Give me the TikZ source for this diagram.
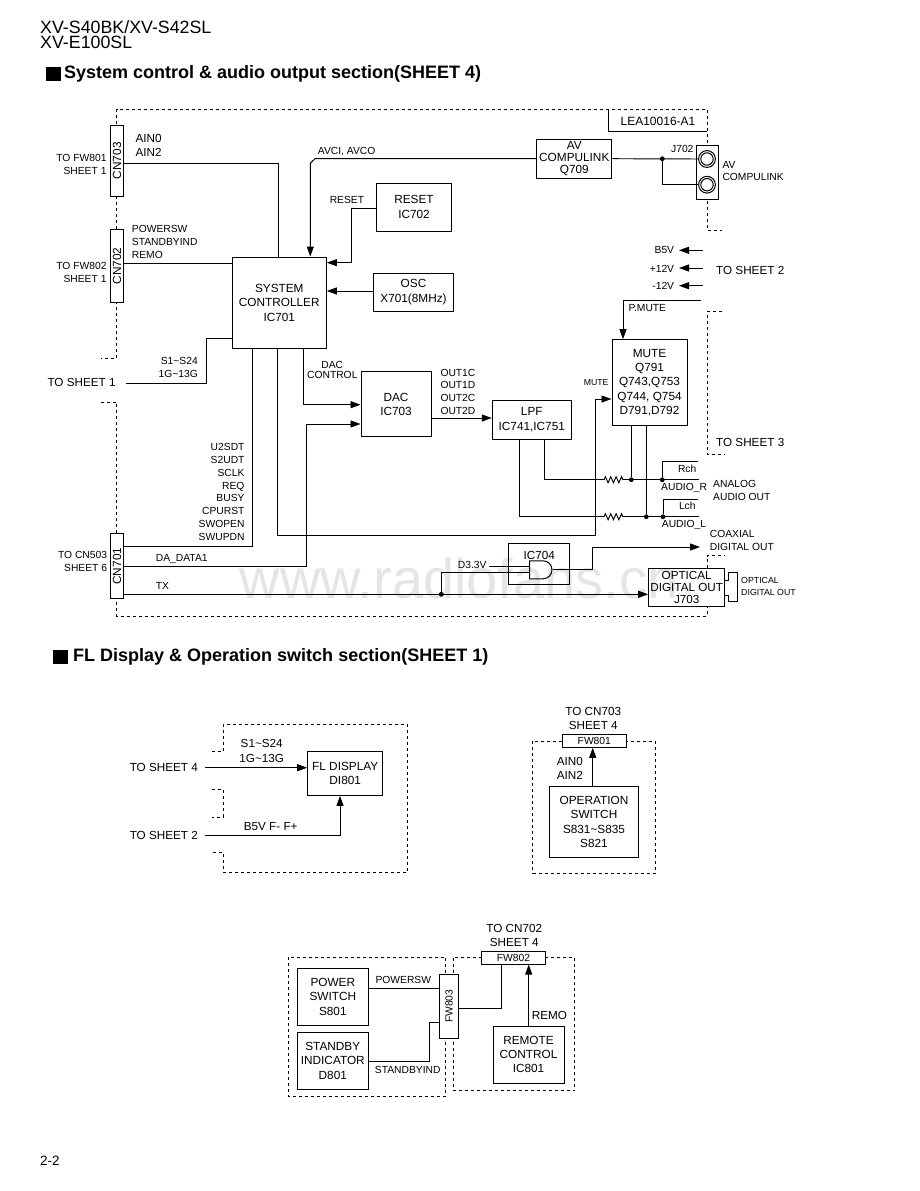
\documentclass[tikz,border=0pt]{standalone}
\usepackage{fontspec}
\setmainfont{Liberation Sans}
\usetikzlibrary{arrows.meta,decorations.pathmorphing,shapes.gates.logic.US}
\begin{document}
\begin{tikzpicture}[x=1pt, y=-1pt, line join=miter,
		box/.style={draw, line width=1pt, inner sep=0pt, align=center, font=\fontsize{11.8}{14.4}\selectfont},
		conn/.style={box, fill=white},
		wire/.style={line width=0.95pt},
		arr/.style={wire, -{Triangle[length=10pt,width=7pt]}},
		dashline/.style={line width=0.9pt, dash pattern=on 3pt off 3pt},
		lbl/.style={inner sep=0pt, font=\fontsize{10.3}{12.8}\selectfont},
		lbll/.style={lbl, anchor=west, align=left},
		lblr/.style={lbl, anchor=east, align=right},
		big/.style={inner sep=0pt, font=\fontsize{11.7}{14.4}\selectfont},
		tiny/.style={inner sep=0pt, anchor=west, align=left, font=\fontsize{8.8}{12}\selectfont},
		res/.style={wire, decorate, decoration={zigzag, segment length=5.4pt, amplitude=3pt}},
		dot/.style={circle, fill, inner sep=0pt, minimum size=4.8pt},
		mark box/.style={fill=black, inner sep=0pt, minimum width=15pt, minimum height=13.4pt},
		title/.style={inner sep=0pt, anchor=west, font=\fontsize{18}{20}\selectfont\bfseries}
		]
	\useasboundingbox (0,0) rectangle (920,1191);

	\node [inner sep=0pt, text=black!10, font=\fontsize{56}{60}\selectfont] (wmark) at (459,578) {www.radiofans.cn};

	\node [inner sep=0pt, anchor=west, align=left, font=\fontsize{17.8}{15.6}\selectfont] (head) at (40,34.5) {XV-S40BK/XV-S42SL\\XV-E100SL};
	\node [inner sep=0pt, anchor=west, font=\fontsize{13.5}{16}\selectfont] (page) at (40,1161) {2-2};
	\node [mark box] (sq1) at (53.2,74) {};
	\node [title] (title1) at (64,73.5) {System control \& audio output section(SHEET 4)};
	\node [mark box] (sq2) at (60,657) {};
	\node [title] (title2) at (73,656.5) {FL Display \& Operation switch section(SHEET 1)};

	% board outline
	\draw [dashline] (116.7,130) -- (116.7,109.3) -- (707,109.3) -- (707,150);
	\draw [dashline] (116.7,190) -- (116.7,240);
	\draw [dashline] (116.7,295) -- (116.7,358.3) -- (101,358.3);
	\draw [dashline] (101,402) -- (116.7,402) -- (116.7,540);
	\draw [dashline] (116.7,590) -- (116.7,616) -- (707,616) -- (707,606);
	\draw [dashline] (707,568.3) -- (707,555.7) -- (725,555.7);
	\draw [dashline] (707,195) -- (707,230) -- (722,230);
	\draw [dashline] (722,311.7) -- (707,311.7) -- (707,454) -- (725,454);
	\draw [wire] (608.3,109.3) -- (608.3,131) -- (707,131);
	\node [inner sep=0pt, font=\fontsize{12}{14}\selectfont] (lea) at (658,121.7) {LEA10016-A1};

	\node [conn, minimum width=12.6pt, minimum height=70.7pt] (cn703) at (117,160.7) {\rotatebox{90}{CN703}};
	\node [conn, minimum width=12.6pt, minimum height=73pt] (cn702) at (117,265.8) {\rotatebox{90}{CN702}};
	\node [conn, minimum width=12.6pt, minimum height=65pt] (cn701) at (117,566.2) {\rotatebox{90}{CN701}};
	\node [box, minimum width=94pt, minimum height=91.3pt] (ic701) at (279.3,302.7) {SYSTEM\\CONTROLLER\\IC701};
	\node [box, minimum width=74.6pt, minimum height=48pt] (ic702) at (414,207) {RESET\\IC702};
	\node [box, minimum width=80.4pt, minimum height=38.3pt] (x701) at (413.5,292.2) {OSC\\X701(8MHz)};
	\node [box, minimum width=70pt, minimum height=65pt] (ic703) at (396,404.2) {DAC\\IC703};
	\node [box, minimum width=75.3pt, minimum height=39.4pt, font=\fontsize{11.8}{12}\selectfont] (q709) at (574.3,158.7) {AV\\COMPULINK\\Q709};
	\node [conn, minimum width=21.6pt, minimum height=54.3pt] (j702) at (707.5,172.2) {};
	\node [circle, draw, line width=1pt, inner sep=0pt, minimum size=16.8pt] (jack1) at (707,159) {};
	\node [circle, draw, line width=1pt, inner sep=0pt, minimum size=12.4pt] (jack1i) at (707,159) {};
	\node [circle, draw, line width=1pt, inner sep=0pt, minimum size=16.8pt] (jack2) at (707,184.7) {};
	\node [circle, draw, line width=1pt, inner sep=0pt, minimum size=12.4pt] (jack2i) at (707,184.7) {};
	\node [box, minimum width=79pt, minimum height=39pt] (lpf) at (531.8,419.8) {LPF\\IC741,IC751};
	\node [box, minimum width=75pt, minimum height=85.6pt] (mute) at (649.5,382.5) {MUTE\\Q791\\Q743,Q753\\Q744, Q754\\D791,D792};
	\node [box, minimum width=60.6pt, minimum height=41.3pt] (ic704) at (539,564.3) {};
	\node [big] (ic704t) at (539.3,555) {IC704};
	\node [and gate US, draw, line width=1pt, logic gate inputs=nn, inner sep=0pt, minimum height=15.7pt, minimum width=21.4pt] (and1) at (540,569.8) {};
	\node [box, minimum width=76pt, minimum height=37.7pt, font=\fontsize{11.7}{12.2}\selectfont] (j703) at (686.7,587.2) {OPTICAL\\DIGITAL OUT\\J703};

	\draw [wire] (724.7,580) -- (728.3,580) -- (728.3,572.3) -- (737.3,572.3) -- (737.3,601.7) -- (728.3,601.7) -- (728.3,595.7) -- (724.7,595.7);

	% left side
	\node [lblr] (tofw801) at (106.7,164.5) {TO FW801\\SHEET 1};
	\node [lblr] (tofw802) at (106.7,272.7) {TO FW802\\SHEET 1};
	\node [lblr] (tocn503) at (107.3,561.5) {TO CN503\\SHEET 6};
	\node [big, anchor=west, align=left, font=\fontsize{11.7}{13.7}\selectfont] (ain) at (135.3,145.2) {AIN0\\AIN2};
	\node [lbll, font=\fontsize{10.3}{13}\selectfont] (pswr) at (131.7,242) {POWERSW\\STANDBYIND\\REMO};
	\node [lblr] (s1s24) at (198,367.2) {S1\textasciitilde S24\\1G\textasciitilde 13G};
	\node [big, anchor=west] (tosh1) at (47.3,382.3) {TO SHEET 1};
	\node [lbll] (avci) at (317.7,151.7) {AVCI, AVCO};
	\node [lblr] (resetl) at (364.3,200.3) {RESET};
	\node [lbl, align=center, font=\fontsize{10.3}{10.6}\selectfont] (dacc) at (332.3,370) {DAC\\CONTROL};
	\node [lbll] (outs) at (440.3,391.7) {OUT1C\\OUT1D\\OUT2C\\OUT2D};
	\node [lblr] (busl) at (244.7,492) {U2SDT\\S2UDT\\SCLK\\REQ\\BUSY\\CPURST\\SWOPEN\\SWUPDN};
	\node [lbll] (dadata) at (155.7,559) {DA\_DATA1};
	\node [lbll] (txl) at (155.7,586) {TX};

	% right side
	\node [lbl] (j702l) at (682.3,149.3) {J702};
	\node [lbll] (avcl) at (722.3,171) {AV\\COMPULINK};
	\node [lblr] (b5v) at (674.3,250.3) {B5V};
	\node [lblr] (p12v) at (674.3,268.5) {+12V};
	\node [lblr] (m12v) at (674.3,286) {-12V};
	\node [big, anchor=west] (tosh2) at (716,270.7) {TO SHEET 2};
	\node [big, anchor=west] (tosh3) at (716,442.7) {TO SHEET 3};
	\node [lbll] (pmute) at (628.3,308) {P.MUTE};
	\node [lblr, font=\fontsize{8.7}{10}\selectfont] (mutel) at (608.7,382.7) {MUTE};
	\node [lbl] (rch) at (687.2,469) {Rch};
	\node [lbl] (lch) at (687.3,506.3) {Lch};
	\node [lbll] (audr) at (661,487.7) {AUDIO\_R};
	\node [lbll] (audl) at (661.7,525.3) {AUDIO\_L};
	\node [lbll] (analog) at (713,490.3) {ANALOG\\AUDIO OUT};
	\node [lbll] (coax) at (709.7,540.2) {COAXIAL\\DIGITAL OUT};
	\node [lblr] (d33) at (486.7,564.7) {D3.3V};
	\node [tiny] (optl) at (741,586.7) {OPTICAL\\DIGITAL OUT};

	\coordinate (ainb) at (278,163.3);
	\draw [wire] (cn703.east |- ainb) -- (ainb) -- (ic701.north -| ainb);
	\coordinate (remb) at (232.3,263.7);
	\draw [wire] (cn702.east |- remb) -- (remb);
	\coordinate (s1a) at (126,383.3);
	\coordinate (s1b) at (206.7,383.3);
	\coordinate (s1c) at (206.7,338.7);
	\draw [wire] (s1a) -- (s1b) -- (s1c) -- (ic701.west |- s1c);
	\coordinate (ava) at (315,158.7);
	\coordinate (avb) at (310.3,163.3);
	\draw [arr] (q709.west) -- (ava) -- (avb) -- (ic701.north -| avb);
	\coordinate (rsa) at (351.7,208.3);
	\coordinate (rsb) at (351.7,262.7);
	\draw [arr] (ic702.west |- rsa) -- (rsa) -- (rsb) -- (ic701.east |- rsb);
	\coordinate (oscb) at (373.3,291);
	\draw [arr] (oscb) -- (ic701.east |- oscb);
	\coordinate (dcb) at (303,404.7);
	\draw [arr] (ic701.south -| dcb) -- (dcb) -- (ic703.west |- dcb);
	\coordinate (dab) at (306.7,566.7);
	\coordinate (dac) at (306.7,424);
	\draw [arr] (cn701.east |- dab) -- (dab) -- (dac) -- (ic703.west |- dac);
	\coordinate (busb) at (252.7,546);
	\draw [wire] (cn701.east |- busb) -- (busb) -- (ic701.south -| busb);
	\coordinate (mta) at (277.3,535.3);
	\coordinate (mtb) at (595,535.3);
	\coordinate (mtc) at (595,399);
	\draw [arr] (ic701.south -| mta) -- (mta) -- (mtb) -- (mtc) -- (mute.west |- mtc);
	\coordinate (outb) at (431,418);
	\draw [arr] (ic703.east |- outb) -- (lpf.west |- outb);
	\node [dot] (dotj) at (662.3,158.7) {};
	\draw [wire] (q709.east) -- (jack1.west);
	\draw [wire] (dotj) |- (jack2.west);
	\coordinate (b5a) at (703.3,250.3);
	\coordinate (b5b) at (679,250.3);
	\draw [arr] (b5a) -- (b5b);
	\coordinate (p12a) at (703.3,268);
	\coordinate (p12b) at (679,268);
	\draw [arr] (p12a) -- (p12b);
	\coordinate (m12a) at (703.3,285.7);
	\coordinate (m12b) at (679,285.7);
	\draw [arr] (m12a) -- (m12b);
	\coordinate (pma) at (700.7,300.3);
	\coordinate (pmb) at (623,300.3);
	\draw [arr] (pma) -- (pmb) -- (mute.north -| pmb);

	% audio out
	\coordinate (rra) at (604,479.7);
	\coordinate (rrb) at (623.3,479.7);
	\coordinate (rla) at (604,516.7);
	\coordinate (rlb) at (623.3,516.7);
	\coordinate (rrend) at (699.3,479.7);
	\coordinate (rlend) at (699.3,516.7);
	\node [dot] (dotr1) at (631.3,479.7) {};
	\node [dot] (dotr2) at (662.3,479.7) {};
	\node [dot] (dotl1) at (646.3,516.7) {};
	\node [dot] (dotl2) at (663,516.7) {};
	\draw [wire] (lpf.south -| 544.3,0) |- (rra);
	\draw [res] (rra) -- (rrb);
	\draw [wire] (rrb) -- (rrend);
	\draw [wire] (lpf.south -| 519.7,0) |- (rla);
	\draw [res] (rla) -- (rlb);
	\draw [wire] (rlb) -- (rlend);
	\draw [wire] (mute.south -| dotr1) -- (dotr1);
	\draw [wire] (mute.south -| dotl1) -- (dotl1);
	\coordinate (rche) at (698,461.7);
	\coordinate (lche) at (698,499.3);
	\draw [wire] (dotr2) |- (rche);
	\draw [wire] (dotl2) |- (lche);

	% digital out
	\node [dot] (dottx) at (441.3,594.3) {};
	\draw [arr] (cn701.east |- dottx) -- (j703.west |- dottx);
	\coordinate (d33a) at (489,564.7);
	\draw [wire] (d33a |- and1.input 1) -- (and1.input 1);
	\draw [wire] (dottx) |- (and1.input 2);
	\coordinate (coa) at (592.7,569.8);
	\coordinate (cob) at (592.7,547);
	\coordinate (coe) at (700,547);
	\draw [wire] (and1.output) -- (coa);
	\draw [arr] (coa) -- (cob) -- (coe);

	% FL display
	\draw [dashline] (211.7,751.7) -- (223.3,751.7) -- (223.3,724.7) -- (407.7,724.7) -- (407.7,872.3) -- (223.3,872.3) -- (223.3,852.7) -- (211.7,852.7);
	\draw [dashline] (211.7,789.7) -- (223.3,789.7) -- (223.3,817) -- (211.7,817);
	\node [box, minimum width=75pt, minimum height=44.3pt] (di801) at (345.2,773.2) {FL DISPLAY\\DI801};
	\node [big] (tosh4) at (163.8,767.6) {TO SHEET 4};
	\node [big] (tosh2b) at (163.8,835.6) {TO SHEET 2};
	\node [big, align=center, font=\fontsize{11.7}{14.4}\selectfont] (s1s24b) at (261.7,750.8) {S1\textasciitilde S24\\1G\textasciitilde 13G};
	\node [big] (b5ff) at (270.7,827) {B5V F- F+};
	\coordinate (fla) at (205,767.7);
	\draw [arr] (fla) -- (di801.west |- fla);
	\coordinate (flb) at (205,835.7);
	\coordinate (flc) at (340,835.7);
	\draw [arr] (flb) -- (flc) -- (di801.south -| flc);

	% operation switch
	\draw [dashline] (532.7,741.3) rectangle (655.3,873.3);
	\node [conn, minimum width=64pt, minimum height=12.6pt, font=\fontsize{10.3}{12}\selectfont] (fw801) at (594.3,741) {FW801};
	\node [box, minimum width=88.6pt, minimum height=70.6pt] (s831) at (594,822) {OPERATION\\SWITCH\\S831\textasciitilde S835\\S821};
	\node [big, align=center] (tocn703) at (593.3,718.5) {TO CN703\\SHEET 4};
	\node [big, anchor=west, align=left] (ain2) at (556.7,768.2) {AIN0\\AIN2};
	\coordinate (opa) at (592.7,786.7);
	\draw [arr] (opa) -- (fw801.south -| opa);

	% power switch
	\draw [dashline] (288.3,957) rectangle (445.3,1096.7);
	\draw [dashline] (453.7,957.7) rectangle (574.7,1090.7);
	\node [box, minimum width=71pt, minimum height=56.7pt] (s801) at (332.8,996.7) {POWER\\SWITCH\\S801};
	\node [box, minimum width=71pt, minimum height=56.7pt] (d801) at (332.8,1060.7) {STANDBY\\INDICATOR\\D801};
	\node [box, minimum width=71pt, minimum height=57pt] (ic801) at (528.5,1054.5) {REMOTE\\CONTROL\\IC801};
	\node [conn, minimum width=63.6pt, minimum height=12.3pt, font=\fontsize{10.3}{12}\selectfont] (fw802) at (513.5,957.9) {FW802};
	\node [conn, minimum width=18.6pt, minimum height=64pt, font=\fontsize{10.3}{12}\selectfont] (fw803) at (449,1006.3) {\rotatebox{90}{FW803}};
	\node [big, align=center] (tocn702) at (514.3,935.5) {TO CN702\\SHEET 4};
	\node [lbl] (pwsw) at (403.3,980.3) {POWERSW};
	\node [lbl] (stby) at (407.7,1069.7) {STANDBYIND};
	\node [big, anchor=west] (remo) at (531.7,1015.7) {REMO};
	\coordinate (psb) at (368.3,988.3);
	\draw [wire] (psb) -- (fw803.west |- psb);
	\coordinate (sba) at (429,1061);
	\coordinate (sbb) at (429,1022.7);
	\draw [wire] (d801.east |- sba) -- (sba) -- (sbb) -- (fw803.west |- sbb);
	\coordinate (fwb) at (501.7,1008.3);
	\draw [wire] (fw803.east |- fwb) -- (fwb) -- (fw802.south -| fwb);
	\coordinate (rma) at (528.7,1026);
	\draw [arr] (rma) -- (fw802.south -| rma);
\end{tikzpicture}
\end{document}
